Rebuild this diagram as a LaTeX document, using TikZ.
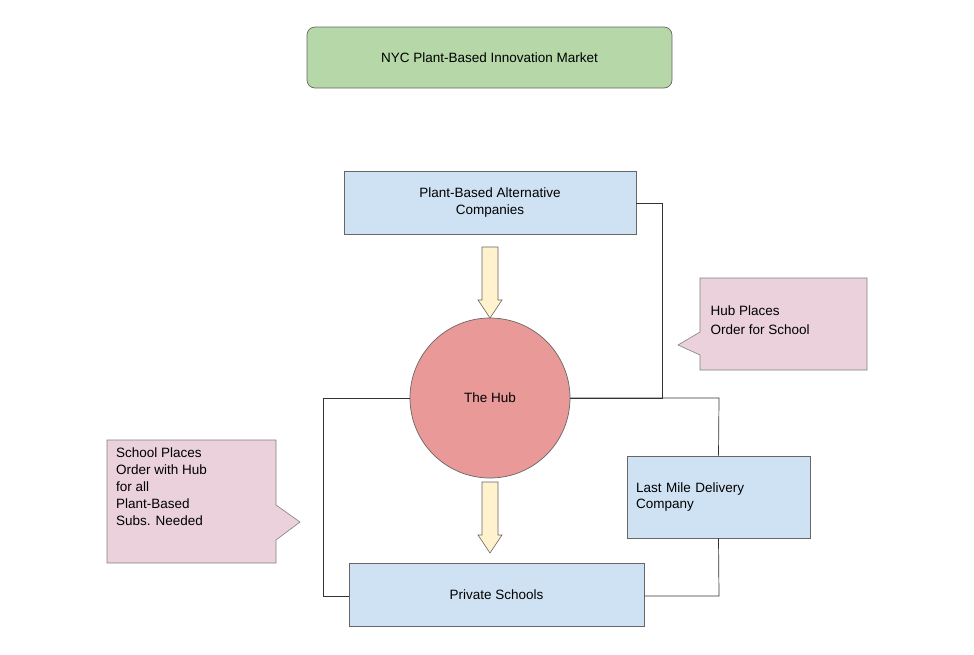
\documentclass[tikz,border=0pt]{standalone}
\usepackage{fontspec}
\setmainfont{Liberation Sans}
\begin{document}
\begin{tikzpicture}[x=1pt,y=-1pt,
  box/.style={draw=black!60,line width=0.7pt,align=center,font=\fontsize{13.5}{16.5}\selectfont,inner sep=0pt},
  blue/.style={box,fill=blue!5!cyan!8!white,fill={rgb,255:red,207;green,226;blue,243}},
  conn/.style={draw=black!80,line width=0.7pt},
  barrow/.style={draw=black!60,line width=0.6pt,fill={rgb,255:red,255;green,242;blue,204}},
  call/.style={draw=black!50,line width=0.6pt,fill={rgb,255:red,234;green,209;blue,220}}]
\useasboundingbox (0,0) rectangle (974,654);
\node[box,rounded corners=8pt,fill={rgb,255:red,182;green,215;blue,168},minimum width=365pt,minimum height=61pt] (title) at (489.5,57.5) {NYC Plant-Based Innovation Market};
\node[blue,minimum width=292pt,minimum height=63pt] (pb) at (490,202.5) {Plant-Based Alternative\\Companies};
\node[box,circle,fill={rgb,255:red,234;green,153;blue,153},minimum size=160pt] (hub) at (490,398) {The Hub};
\node[blue,minimum width=295pt,minimum height=63pt] (ps) at (496.5,594.5) {Private Schools};
\node[blue,minimum width=183pt,minimum height=82pt,align=left,text width=165pt] (lm) at (718.5,497) {Last Mile Delivery\\Company};
\coordinate (c1) at (662,203);
\coordinate (c2) at (662,398);
\coordinate (c3) at (719,398);
\coordinate (c4) at (719,596);
\coordinate (c5) at (323,398);
\coordinate (c6) at (323,596);
\draw[conn] (pb.east|-c1) -- (c1) -- (c2) -- (hub.east);
\draw[conn] (hub.east) -- (c3) -- (lm.north);
\draw[conn] (lm.south) -- (c4) -- (ps.east|-c4);
\draw[conn] (hub.west) -- (c5) -- (c6) -- (ps.west|-c6);
\draw[barrow] (482,247) -- (498,247) -- (498,300) -- (502,300) -- (490,318) -- (478,300) -- (482,300) -- cycle;
\draw[barrow] (482,482) -- (498,482) -- (498,535) -- (502,535) -- (490,553) -- (478,535) -- (482,535) -- cycle;
\draw[call] (700,278) -- (867,278) -- (867,370) -- (700,370) -- (700,355) -- (678,345) -- (700,332) -- cycle;
\node[align=left,font=\fontsize{13.5}{19}\selectfont,anchor=north west] (t1) at (707,302) {Hub Places\\Order for School};
\draw[call] (107,440) -- (276,440) -- (276,505) -- (300,522) -- (276,540) -- (276,563) -- (107,563) -- cycle;
\node[align=left,font=\fontsize{13.5}{17}\selectfont,anchor=north west,inner sep=0pt] (t2) at (116,448) {School Places\\Order with Hub\\for all\\Plant-Based\\Subs. Needed};
\end{tikzpicture}
\end{document}
